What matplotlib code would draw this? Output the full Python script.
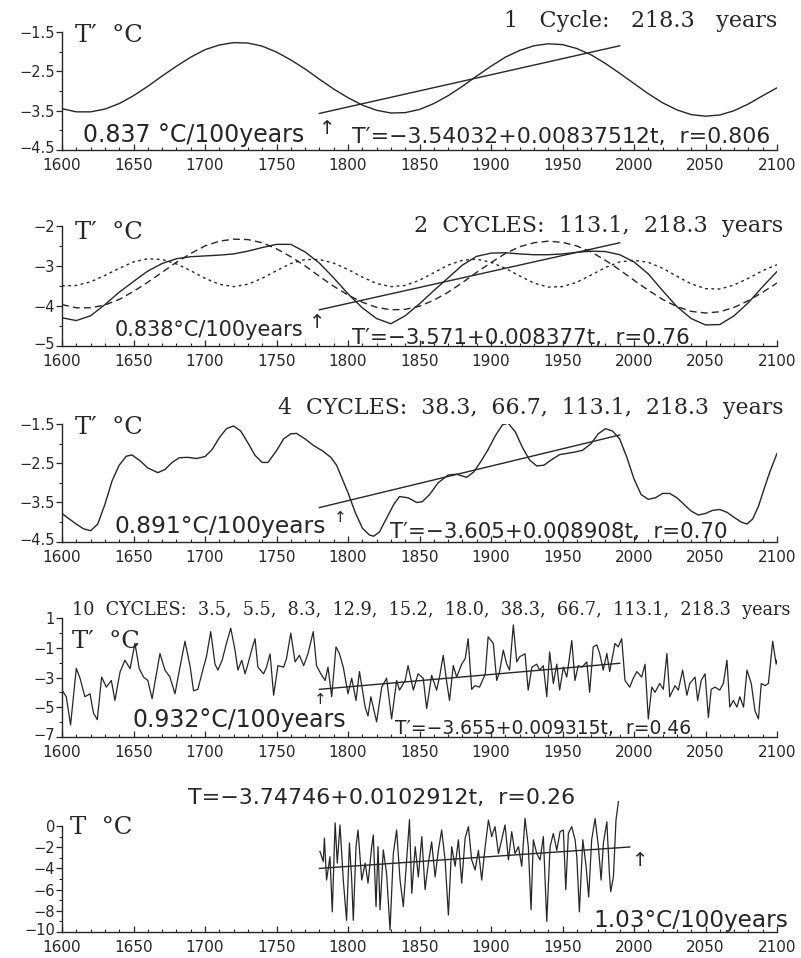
import matplotlib.pyplot as plt
import matplotlib.transforms as mtransforms
import numpy as np
from matplotlib.ticker import MultipleLocator

W, H = 801, 958
INK = "#262626"

# ---- panel 1: one cycle (218.3 years), values every 10 years
YEARS_10 = list(range(1600, 2101, 10))
CYCLE1 = [-3.45, -3.53, -3.53, -3.46, -3.32, -3.12, -2.88, -2.62, -2.37, -2.14,
          -1.95, -1.83, -1.77, -1.78, -1.86, -2.01, -2.21, -2.44, -2.70, -2.95,
          -3.17, -3.36, -3.49, -3.56, -3.55, -3.47, -3.32, -3.12, -2.88, -2.62,
          -2.37, -2.14, -1.97, -1.85, -1.80, -1.82, -1.92, -2.08, -2.30, -2.55,
          -2.81, -3.07, -3.30, -3.48, -3.60, -3.64, -3.61, -3.50, -3.33, -3.12,
          -2.92]
TREND1 = [-3.57, -1.85]

# ---- panel 2: two cycles (sum, 218.3 and 113.1 components)
CYCLE2_SUM = [-4.30, -4.37, -4.25, -3.97, -3.66, -3.39, -3.13, -2.94, -2.82, -2.77,
              -2.75, -2.73, -2.70, -2.63, -2.54, -2.46, -2.46, -2.65, -2.93, -3.30,
              -3.70, -4.05, -4.32, -4.45, -4.25, -3.95, -3.62, -3.30, -2.98, -2.76,
              -2.68, -2.67, -2.70, -2.72, -2.72, -2.70, -2.66, -2.63, -2.64, -2.72,
              -2.90, -3.20, -3.62, -4.02, -4.32, -4.48, -4.47, -4.25, -3.92, -3.52,
              -3.14]
CYCLE2_218 = [-3.97, -4.05, -4.05, -3.98, -3.84, -3.64, -3.41, -3.16, -2.91, -2.69,
              -2.50, -2.38, -2.33, -2.34, -2.42, -2.57, -2.77, -3.00, -3.26, -3.51,
              -3.73, -3.91, -4.04, -4.10, -4.09, -4.01, -3.86, -3.66, -3.42, -3.16,
              -2.92, -2.69, -2.52, -2.42, -2.38, -2.41, -2.50, -2.65, -2.86, -3.10,
              -3.36, -3.61, -3.84, -4.02, -4.14, -4.18, -4.15, -4.04, -3.87, -3.66,
              -3.43]
CYCLE2_113 = [-3.50, -3.49, -3.40, -3.24, -3.06, -2.90, -2.82, -2.84, -2.95, -3.12,
              -3.31, -3.46, -3.52, -3.46, -3.31, -3.12, -2.94, -2.84, -2.84, -2.93,
              -3.09, -3.28, -3.44, -3.52, -3.49, -3.36, -3.17, -2.98, -2.86, -2.83,
              -2.91, -3.06, -3.25, -3.43, -3.53, -3.52, -3.41, -3.23, -3.04, -2.90,
              -2.86, -2.91, -3.06, -3.26, -3.45, -3.57, -3.58, -3.48, -3.31, -3.12,
              -2.97]
TREND2 = [-4.10, -2.42]

# ---- panel 3: four cycles
YEARS_4 = [1600, 1605, 1610, 1615, 1620, 1625, 1630, 1635, 1640, 1645, 1649, 1655,
           1660, 1667, 1672, 1677, 1682, 1688, 1694, 1700, 1705, 1710, 1715, 1720,
           1725, 1730, 1735, 1740, 1744, 1750, 1755, 1760, 1764, 1770, 1776, 1782,
           1788, 1792, 1796, 1800, 1805, 1810, 1815, 1818, 1822, 1827, 1832, 1836,
           1842, 1848, 1852, 1857, 1863, 1870, 1876, 1883, 1888, 1893, 1898, 1903,
           1908, 1912, 1917, 1922, 1927, 1932, 1937, 1942, 1948, 1953, 1958, 1964,
           1970, 1975, 1980, 1985, 1990, 1995, 2000, 2005, 2010, 2015, 2020, 2025,
           2030, 2035, 2040, 2045, 2050, 2055, 2060, 2065, 2070, 2075, 2079, 2083,
           2087, 2091, 2095, 2100]
CYCLE4 = [-3.78, -3.92, -4.05, -4.17, -4.22, -4.05, -3.55, -2.95, -2.55, -2.32, -2.29, -2.45,
          -2.62, -2.74, -2.66, -2.48, -2.36, -2.35, -2.38, -2.33, -2.15, -1.85, -1.62, -1.55,
          -1.68, -1.98, -2.30, -2.48, -2.48, -2.18, -1.88, -1.75, -1.74, -1.88, -2.05, -2.18,
          -2.35, -2.55, -2.90, -3.25, -3.75, -4.15, -4.33, -4.36, -4.25, -3.90, -3.55, -3.35,
          -3.38, -3.50, -3.48, -3.30, -3.00, -2.80, -2.78, -2.86, -2.72, -2.45, -2.15, -1.80,
          -1.52, -1.48, -1.70, -2.10, -2.42, -2.57, -2.55, -2.42, -2.28, -2.25, -2.22, -2.17,
          -2.00, -1.75, -1.62, -1.68, -1.88, -2.35, -2.90, -3.30, -3.42, -3.38, -3.27, -3.27,
          -3.38, -3.55, -3.72, -3.82, -3.78, -3.70, -3.68, -3.75, -3.88, -4.00, -4.05, -3.92,
          -3.60, -3.15, -2.72, -2.25]
TREND3 = [-3.63, -1.78]

# ---- panel 4: ten cycles
YEARS_10C = [1600, 1603, 1606, 1610, 1612.6, 1616, 1619.6, 1622, 1624.7, 1627.7, 1631, 1634.5,
             1637, 1640.6, 1644, 1647.6, 1651, 1654, 1657, 1660, 1663, 1666, 1668.5, 1672,
             1675.5, 1679, 1682.5, 1686, 1689.5, 1692, 1695, 1699, 1701, 1704, 1707, 1709,
             1712, 1715, 1718, 1721, 1723, 1725.7, 1728, 1730, 1732.6, 1735, 1737, 1741,
             1743, 1745.5, 1748, 1751, 1755, 1757, 1760, 1763, 1766, 1769, 1772, 1775.7,
             1778, 1781, 1784, 1786, 1788.6, 1791.6, 1794, 1796.7, 1800, 1802.6, 1805.6, 1808,
             1812, 1814, 1816, 1820, 1823.6, 1827, 1830.5, 1834, 1836, 1840, 1842, 1845.7,
             1849, 1852.6, 1855, 1858.5, 1862, 1864, 1866.6, 1869, 1871, 1873.6, 1876, 1879.5,
             1882, 1884, 1886.5, 1888.8, 1892, 1896, 1898, 1901.6, 1904, 1906, 1908.6, 1911,
             1913, 1915.6, 1918, 1920, 1923.8, 1926, 1928.6, 1932, 1934, 1936.6, 1939, 1941,
             1943.6, 1946, 1948, 1950.6, 1953, 1956.5, 1958.7, 1961, 1963.6, 1967, 1969, 1971.5,
             1974, 1976, 1978.5, 1981, 1983, 1986.7, 1989, 1991.4, 1993.7, 1997, 1999.5, 2002,
             2005.4, 2007.7, 2010, 2012.4, 2014.7, 2018, 2020.5, 2023, 2025, 2028.7, 2031, 2034,
             2037, 2039, 2042.7, 2044.5, 2047, 2049.7, 2052, 2054, 2056.6, 2060, 2062.5, 2065,
             2067, 2069.5, 2072, 2074, 2076.6, 2079, 2082, 2084.6, 2087, 2089, 2091.6, 2094,
             2097, 2099.4, 2100]
CYCLE10 = [-3.85, -4.30, -6.20, -2.38, -3.05, -4.30, -4.10, -5.40, -5.85, -2.97, -3.65, -3.20,
           -4.55, -2.63, -1.83, -2.40, -0.69, -2.40, -2.97, -3.20, -4.43, -2.75, -1.38, -2.50,
           -2.97, -4.10, -2.30, -0.55, -2.20, -3.90, -3.80, -2.30, -1.60, 0.10, -2.10, -2.50,
           -1.83, -0.70, 0.33, -1.15, -2.50, -1.83, -2.75, -2.10, -1.15, -0.38, -2.30, -2.75,
           -2.30, -1.40, -4.20, -2.20, -2.30, -1.72, 0.00, -1.95, -1.50, -2.20, -1.40, 0.10,
           -2.20, -2.75, -3.20, -2.30, -4.30, -0.93, -1.38, -2.30, -4.10, -3.05, -4.55, -2.60,
           -5.00, -5.60, -4.30, -6.00, -3.65, -3.05, -5.80, -3.20, -3.85, -3.20, -2.20, -3.85,
           -2.75, -3.05, -5.10, -2.85, -3.85, -2.97, -1.50, -3.30, -4.55, -2.20, -2.97, -2.10,
           -1.72, -0.38, -3.80, -3.55, -3.65, -2.75, -0.25, -0.70, -3.20, -2.60, -1.15, -2.10,
           -2.50, 0.55, -1.95, -1.60, -1.40, -3.85, -2.30, -2.10, -2.50, -2.20, -4.30, -1.27,
           -3.40, -2.10, -3.85, -2.30, -2.97, -0.50, -3.20, -2.20, -2.30, -1.95, -4.00, -0.93,
           -0.80, -1.38, -2.50, -1.38, -2.60, -0.70, -0.93, -0.38, -3.20, -3.65, -3.05, -2.60,
           -2.97, -2.10, -5.80, -3.65, -4.00, -3.40, -3.80, -1.38, -4.30, -3.55, -3.85, -2.50,
           -4.20, -3.40, -2.97, -4.55, -3.20, -2.75, -5.70, -3.80, -3.65, -3.85, -3.40, -1.83,
           -5.00, -4.55, -5.00, -4.30, -5.00, -2.50, -3.40, -5.25, -5.80, -3.40, -3.55, -3.40,
           -0.55, -2.10, -1.83]
TREND4 = [-3.80, -2.04]

# ---- panel 5: observed series 1781-1990
YEARS_OBS = [1780.4, 1782.7, 1783.5, 1785, 1787.4, 1789, 1791, 1792.5, 1794.4, 1796.7,
             1799, 1801, 1802.6, 1803.7, 1805.6, 1807, 1809.6, 1812, 1814, 1816.6,
             1817.7, 1819.6, 1821, 1822.4, 1824.7, 1827, 1829.4, 1831.7, 1834, 1836.4,
             1838.7, 1841, 1843, 1844.6, 1847, 1849.2, 1851.6, 1853.9, 1856.2, 1858.5,
             1860.9, 1863.2, 1865.5, 1867.9, 1870.2, 1872.5, 1874.9, 1877.2, 1879.5, 1881.9,
             1884.2, 1886.5, 1888.9, 1891.2, 1893.5, 1895.8, 1898.2, 1900.5, 1902.8, 1905.2,
             1907.5, 1909.8, 1912.2, 1914.5, 1916.8, 1919.2, 1921.5, 1923.8, 1926.1, 1928,
             1929.6, 1932, 1934.3, 1936.6, 1939, 1941.3, 1943.6, 1946, 1948.3, 1950.6,
             1952.3, 1954.1, 1956.4, 1958.8, 1960, 1961.8, 1964.2, 1966.5, 1968.3, 1970.4,
             1972.8, 1975.1, 1977, 1978.6, 1981, 1982.8, 1983.7, 1985.6, 1987.4, 1989.1]
OBS = [-2.40, -3.36, -1.15, -5.10, -2.90, -8.10, 0.30, -3.50, 0.10, -5.10,
       -8.90, -1.60, -5.10, -8.90, -1.95, -0.38, -5.10, -3.50, -5.40, -1.95,
       -0.85, -7.60, -1.95, -7.90, -2.26, -4.50, -9.80, -2.60, -0.38, -5.10,
       -7.60, -3.20, 0.60, -6.35, -1.95, -4.80, -1.00, -6.00, -3.50, -1.50,
       -4.80, -2.30, -0.38, -3.20, -8.40, -1.95, -3.80, -1.30, -5.40, -1.15,
       -0.06, -3.20, -4.15, -2.30, -5.10, -2.10, 0.56, -1.00, -0.06, -2.60,
       -1.30, 0.10, -3.20, -0.53, -2.60, -1.95, -3.80, 0.72, -1.95, -7.90,
       -1.30, -2.60, -3.20, -1.00, -9.00, -1.95, -0.70, -2.30, -0.53, -0.38,
       -6.00, -0.70, -0.06, -1.30, -2.90, -8.10, -1.30, -3.80, -6.70, -1.30,
       0.70, -1.95, -5.10, -1.60, 0.40, -4.50, -6.20, -4.80, 0.56, 2.30]
TREND5 = [-4.00, -1.98]
TREND_YEARS = [1780, 1990]
TREND5_YEARS = [1780, 1997]

# panel frames: (top px, bottom px, ylim, y tick values, y tick labels, minor step)
FRAMES = [
    (32, 150, (-4.5, -1.5), [-1.5, -2.5, -3.5, -4.5], ["−1.5", "−2.5", "−3.5", "−4.5"], 0.5),
    (226, 345.7, (-5, -2), [-2, -3, -4, -5], ["−2", "−3", "−4", "−5"], 0.5),
    (424, 541.7, (-4.5, -1.5), [-1.5, -2.5, -3.5, -4.5], ["−1.5", "−2.5", "−3.5", "−4.5"], 0.5),
    (618.3, 736.7, (-7, 1), [1, -1, -3, -5, -7], ["1", "−1", "−3", "−5", "−7"], 1),
    (826, 932, (-10, 0), [0, -2, -4, -6, -8, -10], ["0", "−2", "−4", "−6", "−8", "−10"], 1),
]

SERIF = "DejaVu Serif"
SANS = "DejaVu Sans"


def put(fig, x, y, s, size, family=SANS, ha="left"):
    fig.text(x / W, 1 - y / H, s, fontsize=size, family=family, ha=ha,
             va="center", color=INK)


def make_axes(fig, frame):
    top, bottom, ylim, yt, ytl, minor = frame
    left, right = 62, 777
    ax = fig.add_axes([left / W, 1 - bottom / H, (right - left) / W, (bottom - top) / H])
    ax.set_xlim(1600, 2100)
    ax.set_ylim(*ylim)
    ax.set_xticks(range(1600, 2101, 50))
    ax.xaxis.set_minor_locator(MultipleLocator(10))
    ax.set_yticks(yt, ytl)
    ax.yaxis.set_minor_locator(MultipleLocator(minor))
    for side in ["top", "right"]:
        ax.spines[side].set_visible(False)
    for side in ["left", "bottom"]:
        ax.spines[side].set_color(INK)
        ax.spines[side].set_linewidth(1.0)
    ax.tick_params(axis="x", which="major", direction="in", length=4, width=0.9,
                   colors=INK, labelsize=11, pad=6)
    ax.tick_params(axis="x", which="minor", direction="in", length=2.5, width=0.8, colors=INK)
    ax.tick_params(axis="y", which="major", direction="out", length=4, width=0.9,
                   colors=INK, labelsize=10.5, pad=1)
    ax.tick_params(axis="y", which="minor", direction="out", length=2.5, width=0.8, colors=INK)
    # lowest y label sits a little above the x axis, as in the scan
    lift = mtransforms.ScaledTranslation(0, 3 / 100, fig.dpi_scale_trans)
    low = ax.get_yticklabels()[-1]
    low.set_transform(low.get_transform() + lift)
    ax.patch.set_alpha(0)
    return ax


fig = plt.figure(figsize=(W / 100, H / 100), dpi=100, facecolor="white")
axes = [make_axes(fig, f) for f in FRAMES]
lw = 1.0

# panel 1
ax = axes[0]
ax.plot(YEARS_10, CYCLE1, color=INK, lw=lw)
ax.plot(TREND_YEARS, TREND1, color=INK, lw=lw)
put(fig, 777, 21, "1   Cycle:   218.3   years", 16, SERIF, ha="right")
put(fig, 75, 36, "T′  °C", 17.5, SERIF)
put(fig, 83, 135, "0.837 °C/100years", 17)
put(fig, 327, 128, "↑", 14, ha="center")
put(fig, 352, 137, "T′=−3.54032+0.00837512t,  r=0.806", 15.8)

# panel 2
ax = axes[1]
ax.plot(YEARS_10, CYCLE2_SUM, color=INK, lw=lw)
ax.plot(YEARS_10, CYCLE2_218, color=INK, lw=lw, ls=(0, (5, 3)))
ax.plot(YEARS_10, CYCLE2_113, color=INK, lw=lw, ls=(0, (2, 2.5)))
ax.plot(TREND_YEARS, TREND2, color=INK, lw=lw)
put(fig, 783, 226, "2  CYCLES:  113.1,  218.3  years", 16, SERIF, ha="right")
put(fig, 75, 232, "T′  °C", 17.5, SERIF)
put(fig, 115, 330, "0.838°C/100years", 15)
put(fig, 317, 323, "↑", 14, ha="center")
put(fig, 352, 338, "T′=−3.571+0.008377t,  r=0.76", 15.4)

# panel 3
ax = axes[2]
ax.plot(YEARS_4, CYCLE4, color=INK, lw=lw)
ax.plot(TREND_YEARS, TREND3, color=INK, lw=lw)
put(fig, 783, 408, "4  CYCLES:  38.3,  66.7,  113.1,  218.3  years", 15.8, SERIF, ha="right")
put(fig, 75, 428, "T′  °C", 17.5, SERIF)
put(fig, 115, 526, "0.891°C/100years", 16.8)
put(fig, 340, 518, "↑", 11, ha="center")
put(fig, 390, 532, "T′=−3.605+0.008908t,  r=0.70", 15.4)

# panel 4
ax = axes[3]
ax.plot(YEARS_10C, CYCLE10, color=INK, lw=0.9)
ax.plot(TREND_YEARS, TREND4, color=INK, lw=lw)
put(fig, 790, 610,
    "10  CYCLES:  3.5,  5.5,  8.3,  12.9,  15.2,  18.0,  38.3,  66.7,  113.1,  218.3  years",
    12.7, SERIF, ha="right")
put(fig, 72, 641, "T′  °C", 17.5, SERIF)
put(fig, 133, 720, "0.932°C/100years", 17)
put(fig, 320, 700, "↑", 11, ha="center")
put(fig, 395, 728, "T′=−3.655+0.009315t,  r=0.46", 13.5)

# panel 5
ax = axes[4]
ax.plot(YEARS_OBS, OBS, color=INK, lw=0.9, clip_on=False)
ax.plot(TREND5_YEARS, TREND5, color=INK, lw=lw)
put(fig, 188, 798, "T=−3.74746+0.0102912t,  r=0.26", 15.9)
put(fig, 70, 827, "T  °C", 17.5, SERIF)
put(fig, 640, 860, "↑", 14, ha="center")
put(fig, 593, 920, "1.03°C/100years", 16.7)

fig.savefig("out.png", dpi=100, facecolor="white")
